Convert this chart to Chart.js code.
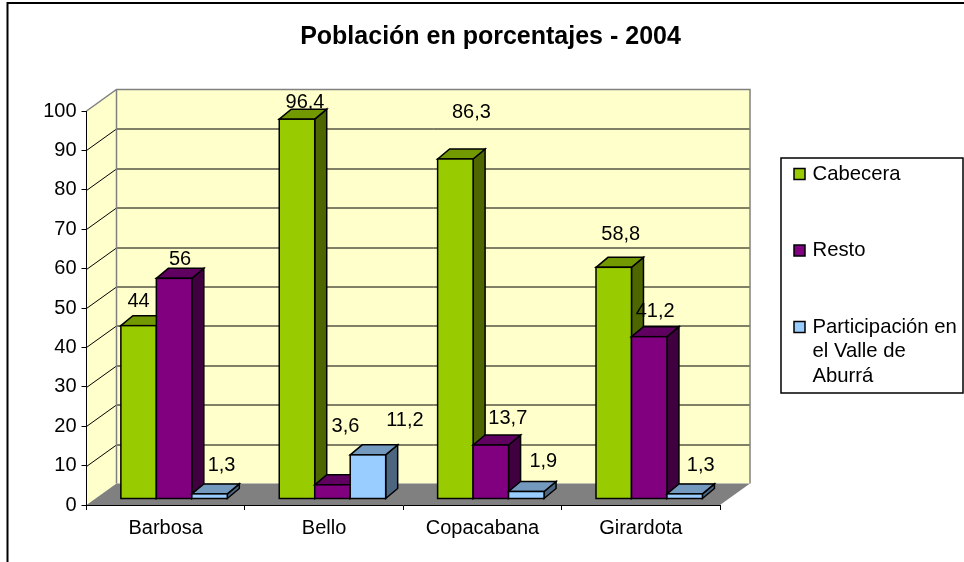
<!DOCTYPE html>
<html>
<head>
<meta charset="utf-8">
<title>Población en porcentajes - 2004</title>
<script src="https://cdn.jsdelivr.net/npm/chart.js@4"></script>
<style>
  html, body { margin: 0; padding: 0; background: #fff; }
  canvas { display: block; }
</style>
</head>
<body>
<canvas id="chart" width="964" height="562"></canvas>
<script>
var categories = ['Barbosa', 'Bello', 'Copacabana', 'Girardota'];
var cabecera = [44, 96.4, 86.3, 58.8];
var resto = [56, 3.6, 13.7, 41.2];
var participacion = [1.3, 11.2, 1.9, 1.3];
var yTicks = [0, 10, 20, 30, 40, 50, 60, 70, 80, 90, 100];

var chartTitle = 'Población en porcentajes - 2004';
var legendLines = [['Cabecera'], ['Resto'], ['Participación en', 'el Valle de', 'Aburrá']];

// label nudges in px from the top of each bar, same order as the series
var labelDx = [[0, 8, 16, 7], [6, 13, 17, 6], [12, 37, 17, 16]];
var labelDy = [[-24, -17, -46, -33], [-19, -58, -27, -25], [-28, -34, -30, -28]];

var FONT = '"Liberation Sans", Arial, sans-serif';
var WALL_DX = 30, WALL_DY = -21.5;     // depth of the whole box
var BAR_DX = 8.4, BAR_DY = -6;         // where the bars stand on the floor
var SIDE_DX = 12, SIDE_DY = -10;       // depth of one bar

var faces = [
    { front: '#99cc00', top: '#739900', side: '#4d6600' },
    { front: '#800080', top: '#600060', side: '#400040' },
    { front: '#99ccff', top: '#7399bf', side: '#4d6680' },
];

function poly(ctx, pts, fill, stroke, lw) {
    ctx.beginPath();
    pts.forEach(function(p, i) {
        if (i === 0) ctx.moveTo(p[0], p[1]);
        else ctx.lineTo(p[0], p[1]);
    });
    ctx.closePath();
    if (fill) { ctx.fillStyle = fill; ctx.fill(); }
    if (stroke) { ctx.strokeStyle = stroke; ctx.lineWidth = lw; ctx.stroke(); }
}

var box3d = {
    id: 'box3d',
    beforeDraw: function(chart) {
        var ctx = chart.ctx, a = chart.chartArea;
        var l = a.left, r = a.right, t = a.top, b = a.bottom;
        var y = chart.scales.y;

        ctx.save();
        ctx.fillStyle = '#fff';
        ctx.fillRect(0, 0, chart.width, chart.height);

        // only the top and left of the frame are in the picture
        ctx.strokeStyle = '#000';
        ctx.lineWidth = 2;
        ctx.beginPath();
        ctx.moveTo(7.5, 562);
        ctx.lineTo(7.5, 3);
        ctx.lineTo(964, 3);
        ctx.stroke();

        // walls
        poly(ctx, [[l, t], [l + WALL_DX, t + WALL_DY], [l + WALL_DX, b + WALL_DY], [l, b]], '#ffffcc');
        poly(ctx, [[l + WALL_DX, t + WALL_DY], [r + WALL_DX, t + WALL_DY], [r + WALL_DX, b + WALL_DY], [l + WALL_DX, b + WALL_DY]], '#ffffcc');

        // grid lines run along both walls
        ctx.strokeStyle = '#000';
        ctx.lineWidth = 1;
        yTicks.forEach(function(v) {
            if (v === 0 || v === 100) return;
            var py = Math.round(y.getPixelForValue(v)) + 0.5;
            ctx.beginPath();
            ctx.moveTo(l, py);
            ctx.lineTo(l + WALL_DX, py + WALL_DY);
            ctx.lineTo(r + WALL_DX, py + WALL_DY);
            ctx.stroke();
        });

        // wall outline
        ctx.strokeStyle = '#808080';
        ctx.lineWidth = 1.5;
        ctx.beginPath();
        ctx.moveTo(l, t);
        ctx.lineTo(l + WALL_DX, t + WALL_DY);
        ctx.lineTo(r + WALL_DX, t + WALL_DY);
        ctx.lineTo(r + WALL_DX, b + WALL_DY);
        ctx.moveTo(l + WALL_DX, t + WALL_DY);
        ctx.lineTo(l + WALL_DX, b + WALL_DY);
        ctx.stroke();

        // floor
        poly(ctx, [[l, b], [r, b], [r + WALL_DX, b + WALL_DY], [l + WALL_DX, b + WALL_DY]], '#808080');
        ctx.restore();

        // title
        ctx.save();
        ctx.fillStyle = '#000';
        ctx.font = 'bold 25px ' + FONT;
        ctx.textAlign = 'center';
        ctx.textBaseline = 'middle';
        ctx.fillText(chartTitle, 490.5, 37);
        ctx.restore();
    },
    // Chart.js paints the first dataset last, the box needs it the other way round
    beforeDatasetsDraw: function(chart) {
        var ctx = chart.ctx;
        chart.data.datasets.forEach(function(ds, i) {
            var meta = chart.getDatasetMeta(i);
            var f = faces[i];

            // each series' labels go just under its own bars: the top of the 96,4 bar
            // clips its label, while 41,2 still lies over the green side next to it
            ctx.save();
            ctx.fillStyle = '#000';
            ctx.font = '20px ' + FONT;
            ctx.textAlign = 'center';
            ctx.textBaseline = 'middle';
            meta.data.forEach(function(bar, k) {
                var text = String(ds.data[k]).replace('.', ',');
                ctx.fillText(text, bar.x + BAR_DX + labelDx[i][k], bar.y + BAR_DY + labelDy[i][k]);
            });
            ctx.restore();

            ctx.save();
            ctx.translate(BAR_DX, BAR_DY);
            meta.data.forEach(function(bar) {
                var p = bar.getProps(['x', 'y', 'base', 'width'], true);
                var x0 = p.x - p.width / 2, x1 = p.x + p.width / 2;
                poly(ctx, [[x1, p.y], [x1 + SIDE_DX, p.y + SIDE_DY], [x1 + SIDE_DX, p.base + SIDE_DY], [x1, p.base]], f.side, '#000', 1.5);
                poly(ctx, [[x0, p.y], [x0 + SIDE_DX, p.y + SIDE_DY], [x1 + SIDE_DX, p.y + SIDE_DY], [x1, p.y]], f.top, '#000', 1.5);
            });
            meta.controller.draw();
            meta.data.forEach(function(bar) {
                var p = bar.getProps(['x', 'y', 'base', 'width'], true);
                ctx.strokeStyle = '#000';
                ctx.lineWidth = 1.5;
                ctx.strokeRect(p.x - p.width / 2, p.y, p.width, p.base - p.y);
            });
            ctx.restore();
        });
    },
    beforeDatasetDraw: function() {
        return false;
    },
    afterDatasetsDraw: function(chart) {
        var ctx = chart.ctx;
        ctx.save();
        ctx.font = '20.3px ' + FONT;
        ctx.textBaseline = 'middle';

        // legend
        ctx.fillStyle = '#fff';
        ctx.strokeStyle = '#000';
        ctx.lineWidth = 1.5;
        ctx.fillRect(781, 158, 182, 235);
        ctx.strokeRect(781, 158, 182, 235);
        var rows = [174, 250.5, 327];
        legendLines.forEach(function(lines, i) {
            ctx.fillStyle = faces[i].front;
            ctx.fillRect(794, rows[i] - 5.5, 11, 11);
            ctx.strokeStyle = '#000';
            ctx.lineWidth = 1.5;
            ctx.strokeRect(794, rows[i] - 5.5, 11, 11);
            ctx.fillStyle = '#000';
            ctx.textAlign = 'left';
            lines.forEach(function(line, n) {
                ctx.fillText(line, 812.5, rows[i] + n * 24.5);
            });
        });
        ctx.restore();
    },
};

function makeSeries(label, data, i) {
    return {
        label: label,
        data: data,
        backgroundColor: faces[i].front,
        borderWidth: 0,
        clip: false,
    };
}

Chart.defaults.font.family = FONT;
Chart.defaults.color = '#000';

new Chart(document.getElementById('chart'), {
    type: 'bar',
    data: {
        labels: categories,
        datasets: [
            makeSeries(legendLines[0].join(' '), cabecera, 0),
            makeSeries(legendLines[1].join(' '), resto, 1),
            makeSeries(legendLines[2].join(' '), participacion, 2),
        ],
    },
    options: {
        responsive: false,
        animation: false,
        layout: { padding: { top: 111, left: 0, right: 244, bottom: 0 } },
        categoryPercentage: 0.672,
        barPercentage: 1,
        plugins: {
            legend: { display: false },
            title: { display: false },
            tooltip: { enabled: false },
        },
        scales: {
            x: {
                afterFit: function(s) { s.height = 57; },
                grid: { drawOnChartArea: false, color: '#000', tickLength: 5, lineWidth: 1 },
                border: { color: '#000', width: 1 },
                ticks: { font: { size: 20 }, color: '#000', maxRotation: 0, padding: 6 },
            },
            y: {
                min: 0,
                max: 100,
                afterFit: function(s) { s.width = 86.5; },
                afterBuildTicks: function(s) { s.ticks = yTicks.map(function(v) { return { value: v }; }); },
                grid: { drawOnChartArea: false, color: '#000', tickLength: 5, lineWidth: 1 },
                border: { color: '#000', width: 1 },
                ticks: { font: { size: 20 }, color: '#000', padding: 5 },
            },
        },
    },
    plugins: [box3d],
});
</script>
</body>
</html>
